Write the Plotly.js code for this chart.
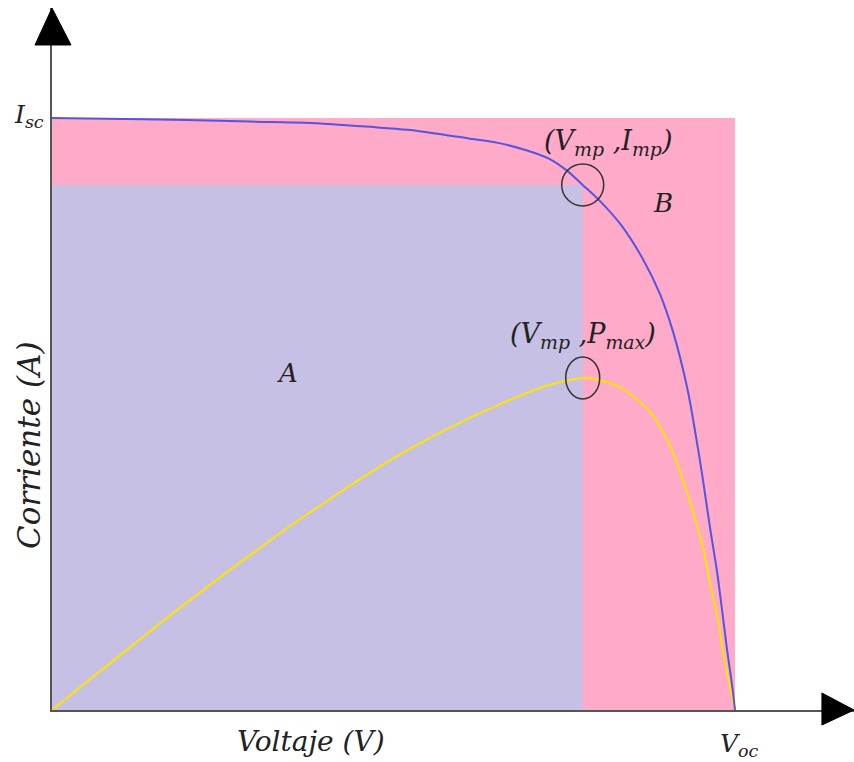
<!DOCTYPE html>
<html>
<head>
<meta charset="utf-8">
<script src="https://cdn.plot.ly/plotly-3.0.1.min.js"></script>
<style>html,body{margin:0;padding:0;background:#fff;}#chart{width:854px;height:762px;}</style>
</head>
<body>
<div id="chart"></div>
<script>
// Normalised values: V / Voc, I / Isc, P (scaled to the same axis)
const Voc = 1.0;
const Isc = 1.0;
const Vmp = 0.777;
const Imp = 0.887;
const Pmax = 0.561;

// I-V curve
const ivVoltage = [0, 0.133, 0.290, 0.370, 0.426, 0.466, 0.521, 0.567, 0.612, 0.653, 0.693, 0.728, 0.753, 0.777, 0.802, 0.832, 0.865, 0.890, 0.909, 0.930, 0.944, 0.953, 0.963, 0.974, 0.981, 0.988, 0.996, 1.0];
const ivCurrent = [1.0, 0.998, 0.994, 0.992, 0.988, 0.985, 0.980, 0.973, 0.965, 0.958, 0.946, 0.931, 0.912, 0.887, 0.860, 0.821, 0.762, 0.703, 0.640, 0.544, 0.454, 0.389, 0.311, 0.231, 0.169, 0.105, 0.039, 0];

// P-V curve
const pvVoltage = [0, 0.047, 0.098, 0.148, 0.199, 0.249, 0.300, 0.350, 0.400, 0.451, 0.501, 0.552, 0.602, 0.653, 0.703, 0.734, 0.777, 0.802, 0.832, 0.854, 0.876, 0.893, 0.905, 0.915, 0.930, 0.944, 0.955, 0.963, 0.974, 0.982, 0.993, 1.0];
const pvPower = [0, 0.044, 0.091, 0.137, 0.183, 0.227, 0.270, 0.312, 0.351, 0.390, 0.426, 0.459, 0.488, 0.515, 0.539, 0.551, 0.561, 0.557, 0.545, 0.527, 0.503, 0.473, 0.446, 0.417, 0.367, 0.313, 0.265, 0.216, 0.159, 0.101, 0.037, 0];

const labelFont = {family: 'DejaVu Serif', style: 'italic', color: '#222'};
const f = (size) => Object.assign({}, labelFont, {size: size});

const traces = [
  { // region B (Voc x Isc)
    x: [0, Voc, Voc, 0, 0], y: [0, 0, Isc, Isc, 0],
    mode: 'lines', fill: 'toself', fillcolor: 'rgb(254,170,200)',
    line: {width: 0}, hoverinfo: 'skip'
  },
  { // region A (Vmp x Imp)
    x: [0, Vmp, Vmp, 0, 0], y: [0, 0, Imp, Imp, 0],
    mode: 'lines', fill: 'toself', fillcolor: 'rgb(198,192,228)',
    line: {width: 0}, hoverinfo: 'skip'
  },
  {
    x: pvVoltage, y: pvPower, mode: 'lines',
    line: {color: 'rgb(255,228,0)', width: 2, shape: 'spline', smoothing: 1}
  },
  {
    x: ivVoltage, y: ivCurrent, mode: 'lines',
    line: {color: 'rgb(85,85,222)', width: 2, shape: 'spline', smoothing: 1}
  }
];

const layout = {
  width: 854, height: 762,
  margin: {l: 52, r: 0, t: 8, b: 52},
  paper_bgcolor: '#fff', plot_bgcolor: '#fff',
  showlegend: false,
  xaxis: {range: [0, 1.1742], showgrid: false, zeroline: false, showticklabels: false, ticks: '',
          showline: true, linecolor: '#555', linewidth: 2, fixedrange: true},
  yaxis: {range: [0, 1.1858], showgrid: false, zeroline: false, showticklabels: false, ticks: '',
          showline: true, linecolor: '#555', linewidth: 2, fixedrange: true},
  shapes: [
    {type: 'path', xref: 'paper', yref: 'paper', path: 'M0,1 L-0.0212,0.9473 L0.0237,0.9473 Z',
     fillcolor: '#000', line: {color: '#000', width: 1}},
    {type: 'path', xref: 'paper', yref: 'paper', path: 'M1,0 L0.960,0.0242 L0.960,-0.0214 Z',
     fillcolor: '#000', line: {color: '#000', width: 1}},
    {type: 'circle', xref: 'x', yref: 'y', xsizemode: 'pixel', ysizemode: 'pixel',
     xanchor: Vmp, yanchor: Imp, x0: -21, x1: 21, y0: -21, y1: 21,
     line: {color: '#333', width: 1.5}},
    {type: 'circle', xref: 'x', yref: 'y', xsizemode: 'pixel', ysizemode: 'pixel',
     xanchor: Vmp, yanchor: Pmax, x0: -17, x1: 17, y0: -21, y1: 21,
     line: {color: '#333', width: 1.5}}
  ],
  annotations: [
    {xref: 'x', yref: 'y', x: 0, y: Isc, xanchor: 'right', yanchor: 'middle', xshift: -6, yshift: 2,
     text: 'I<sub>sc</sub>', showarrow: false, font: f(25)},
    {xref: 'x', yref: 'y', x: Voc, y: 0, xanchor: 'center', yanchor: 'middle', xshift: 4, yshift: -35,
     text: 'V<sub>oc</sub>', showarrow: false, font: f(25)},
    {xref: 'x', yref: 'y', x: Vmp, y: Imp, xanchor: 'center', yanchor: 'middle', xshift: 25, yshift: 42,
     text: '(V<sub>mp</sub> ,I<sub>mp</sub>)', showarrow: false, font: f(27)},
    {xref: 'x', yref: 'y', x: Vmp, y: Pmax, xanchor: 'center', yanchor: 'middle', xshift: 0, yshift: 42,
     text: '(V<sub>mp</sub> ,P<sub>max</sub>)', showarrow: false, font: f(27)},
    {xref: 'paper', yref: 'paper', x: (663 - 52) / 802, y: (710 - 203) / 702, xanchor: 'center', yanchor: 'middle',
     text: 'B', showarrow: false, font: f(26)},
    {xref: 'paper', yref: 'paper', x: (287 - 52) / 802, y: (710 - 373) / 702, xanchor: 'center', yanchor: 'middle',
     text: 'A', showarrow: false, font: f(26)},
    {xref: 'paper', yref: 'paper', x: (311 - 52) / 802, y: (710 - 741) / 702, xanchor: 'center', yanchor: 'middle',
     text: 'Voltaje (V)', showarrow: false, font: f(28)},
    {xref: 'paper', yref: 'paper', x: (29 - 52) / 802, y: (710 - 446) / 702, xanchor: 'center', yanchor: 'middle',
     text: 'Corriente (A)', textangle: -90, showarrow: false, font: f(31)}
  ]
};

Plotly.newPlot('chart', traces, layout, {displayModeBar: false, staticPlot: true});
</script>
</body>
</html>
